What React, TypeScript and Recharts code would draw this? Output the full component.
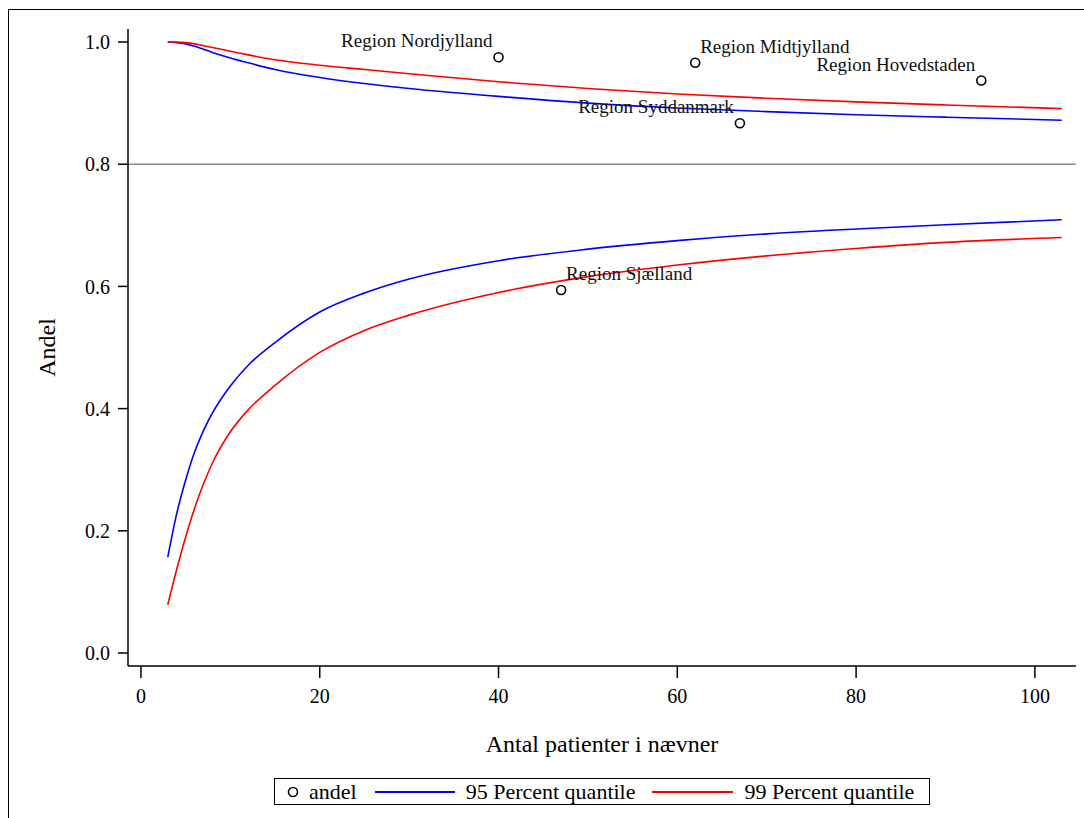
import {
  ComposedChart,
  Label,
  Line,
  ReferenceLine,
  Scatter,
  XAxis,
  YAxis,
} from 'recharts'

// antal patienter (x) where the control limits are read
const nValues = [3, 4, 5, 6, 7, 8, 10, 12, 15, 20, 25, 30, 40, 50, 60, 70, 80, 90, 103]
const upper95 = [1.0, 0.999, 0.997, 0.993, 0.988, 0.983, 0.974, 0.966, 0.955, 0.942, 0.932, 0.924, 0.911, 0.9, 0.892, 0.886, 0.881, 0.877, 0.872]
const lower95 = [0.157, 0.228, 0.283, 0.329, 0.364, 0.393, 0.437, 0.471, 0.508, 0.558, 0.589, 0.612, 0.642, 0.661, 0.675, 0.686, 0.694, 0.701, 0.709]
const upper99 = [1.0, 1.0, 0.999, 0.997, 0.994, 0.991, 0.985, 0.979, 0.971, 0.962, 0.955, 0.948, 0.935, 0.924, 0.915, 0.908, 0.902, 0.897, 0.891]
const lower99 = [0.079, 0.137, 0.19, 0.237, 0.277, 0.311, 0.362, 0.398, 0.438, 0.492, 0.528, 0.553, 0.59, 0.616, 0.635, 0.65, 0.662, 0.672, 0.68]

const regionNames = [
  'Region Nordjylland',
  'Region Midtjylland',
  'Region Hovedstaden',
  'Region Syddanmark',
  'Region Sjælland',
]
const regionN = [40, 62, 94, 67, 47]
const regionAndel = [0.975, 0.966, 0.937, 0.867, 0.594]

const xTicks = [0, 20, 40, 60, 80, 100]
const yTicks = [0, 0.2, 0.4, 0.6, 0.8, 1.0]
const target = 0.8

const FONT = "'Liberation Serif', 'Times New Roman', serif"
const BLUE = '#0000ff'
const RED = '#ff0000'

// which side of the marker the region name sits on
const LABEL_SIDE: Record<string, 'left' | 'right'> = {
  'Region Nordjylland': 'left',
  'Region Midtjylland': 'right',
  'Region Hovedstaden': 'left',
  'Region Syddanmark': 'left',
  'Region Sjælland': 'right',
}

const toSeries = (vals: number[]) => vals.map((v, i) => ({ n: nValues[i], v }))
const points = regionNames.map((name, i) => ({ name, n: regionN[i], andel: regionAndel[i] }))

const X_DOMAIN: [number, number] = [-1.45, 104.6]
const Y_DOMAIN: [number, number] = [-0.0213, 1.0213]

function RegionDot(props: any) {
  const { cx, cy, payload } = props
  const side = LABEL_SIDE[payload.name] ?? 'right'
  return (
    <g>
      <circle cx={cx} cy={cy} r={4.5} fill="#fff" stroke="#000" strokeWidth={1.6} />
      <text
        x={side === 'left' ? cx - 6 : cx + 5}
        y={cy - 10}
        textAnchor={side === 'left' ? 'end' : 'start'}
        fontFamily={FONT}
        fontSize={19}
        fill="#111"
      >
        {payload.name}
      </text>
    </g>
  )
}

function LegendBox() {
  const text = { fontFamily: FONT, fontSize: 22, color: '#000', lineHeight: '24px' }
  return (
    <div
      style={{
        position: 'absolute',
        left: 274,
        top: 778,
        width: 656,
        height: 27,
        boxSizing: 'border-box',
        border: '1.5px solid #000',
        display: 'flex',
        alignItems: 'center',
        paddingLeft: 12,
        background: '#fff',
      }}
    >
      <svg width={12} height={12} style={{ marginRight: 10 }}>
        <circle cx={6} cy={6} r={4.5} fill="#fff" stroke="#000" strokeWidth={1.6} />
      </svg>
      <span style={text}>andel</span>
      <span style={{ width: 80, height: 2, background: BLUE, marginLeft: 18, marginRight: 11 }} />
      <span style={text}>95 Percent quantile</span>
      <span style={{ width: 81, height: 2, background: RED, marginLeft: 16, marginRight: 12 }} />
      <span style={text}>99 Percent quantile</span>
    </div>
  )
}

export default function App() {
  return (
    <div style={{ position: 'relative', width: 1084, height: 818, overflow: 'hidden', background: '#fff' }}>
      <style>{'body{margin:0;overflow:hidden;background:#fff}'}</style>
      <div
        style={{
          position: 'absolute',
          left: 8,
          top: 9,
          width: 1100,
          height: 830,
          borderLeft: '1px solid #000',
          borderTop: '1px solid #000',
        }}
      />
      <div style={{ position: 'absolute', left: 9, top: 10 }}>
        <ComposedChart width={1070} height={770} margin={{ top: 19, right: 3, left: 0, bottom: 0 }}>
          <XAxis
            dataKey="n"
            type="number"
            domain={X_DOMAIN}
            ticks={xTicks}
            allowDataOverflow
            height={114}
            tickSize={12}
            tickMargin={11}
            stroke="#000"
            strokeWidth={1.5}
            tick={{ fill: '#000', fontSize: 20, fontFamily: FONT }}
          >
            <Label
              value="Antal patienter i nævner"
              position="insideBottom"
              offset={28}
              style={{ fontFamily: FONT, fontSize: 24, fill: '#000' }}
            />
          </XAxis>
          <XAxis
            xAxisId="top"
            orientation="top"
            type="number"
            domain={X_DOMAIN}
            allowDataOverflow
            height={0}
            tick={false}
            tickLine={false}
            stroke="#000"
            strokeWidth={1.5}
          />
          <YAxis
            type="number"
            domain={Y_DOMAIN}
            ticks={yTicks}
            allowDataOverflow
            width={119}
            tickSize={10}
            tickMargin={8}
            tickFormatter={(v: number) => v.toFixed(1)}
            stroke="#000"
            strokeWidth={1.5}
            tick={{ fill: '#000', fontSize: 20, fontFamily: FONT }}
          >
            <Label
              value="Andel"
              angle={-90}
              position="insideLeft"
              offset={37}
              style={{ fontFamily: FONT, fontSize: 24, fill: '#000', textAnchor: 'middle' }}
            />
          </YAxis>
          <YAxis
            yAxisId="right"
            orientation="right"
            type="number"
            domain={Y_DOMAIN}
            allowDataOverflow
            width={0}
            tick={false}
            tickLine={false}
            stroke="#000"
            strokeWidth={1.5}
          />
          <ReferenceLine y={target} stroke="#8c8c8c" strokeWidth={1.5} />
          <Line data={toSeries(upper95)} dataKey="v" type="monotone" stroke={BLUE} strokeWidth={1.6} dot={false} isAnimationActive={false} />
          <Line data={toSeries(lower95)} dataKey="v" type="monotone" stroke={BLUE} strokeWidth={1.6} dot={false} isAnimationActive={false} />
          <Line data={toSeries(upper99)} dataKey="v" type="monotone" stroke={RED} strokeWidth={1.6} dot={false} isAnimationActive={false} />
          <Line data={toSeries(lower99)} dataKey="v" type="monotone" stroke={RED} strokeWidth={1.6} dot={false} isAnimationActive={false} />
          <Scatter data={points} dataKey="andel" shape={RegionDot} isAnimationActive={false} />
        </ComposedChart>
      </div>
      <LegendBox />
    </div>
  )
}
